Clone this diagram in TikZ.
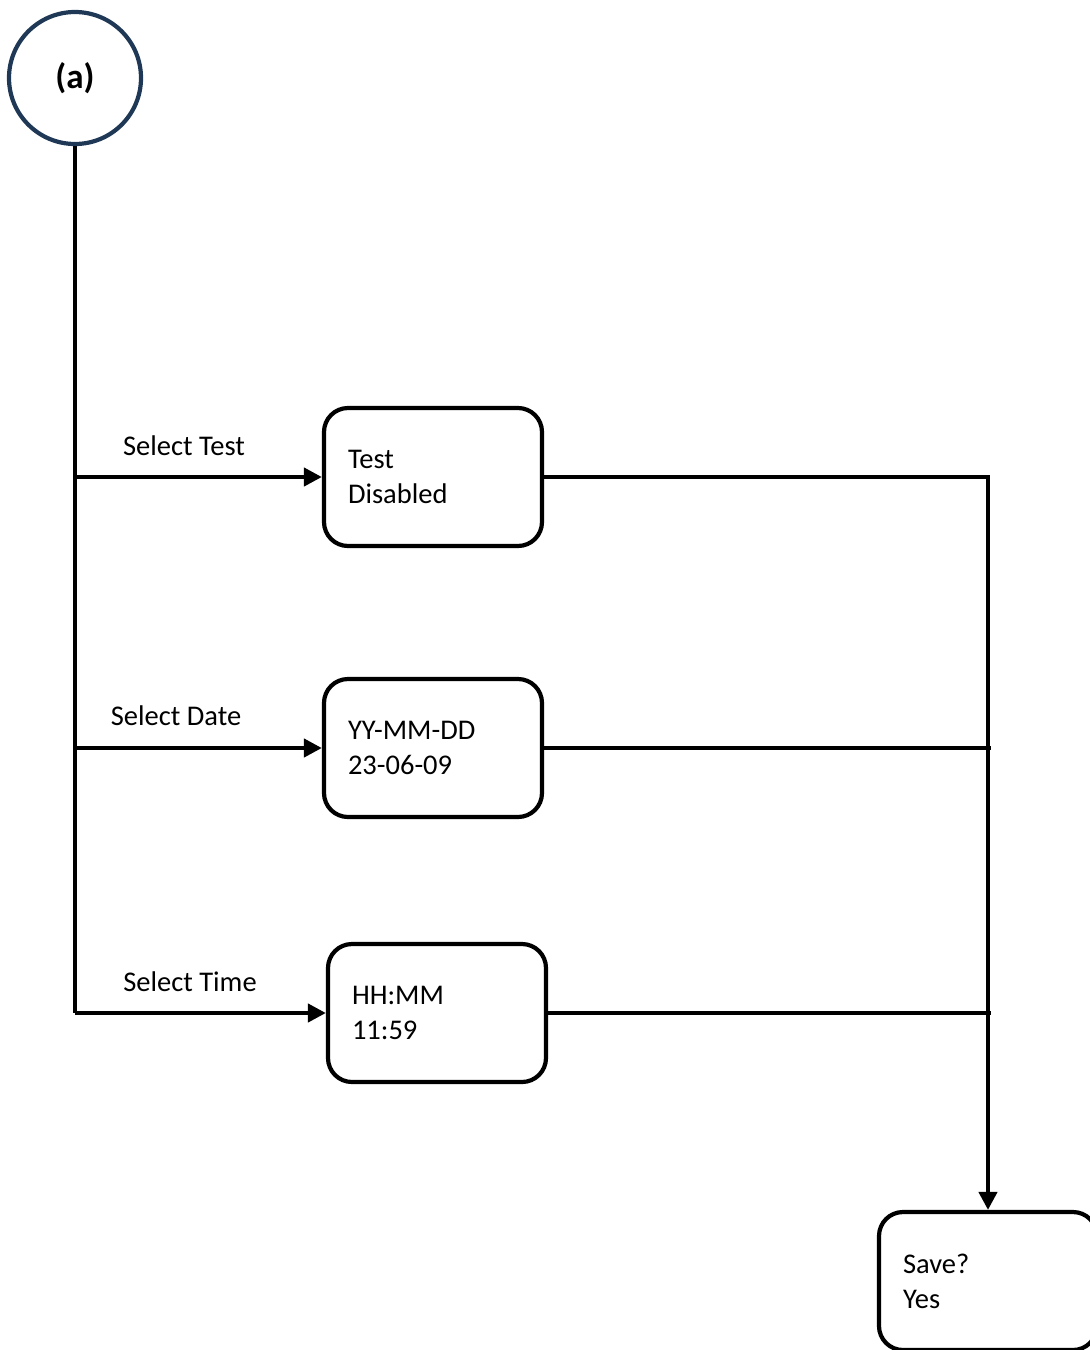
\documentclass[tikz,border=0pt]{standalone}
\usepackage{fontspec}
\setmainfont{Carlito}
\usetikzlibrary{arrows.meta}
\definecolor{ringblue}{RGB}{31,56,86}
\tikzset{
    flow/.style={line width=4.2pt},
    flowarrow/.style={flow,-{Triangle[length=18pt,width=18pt]}},
    statebox/.style={draw,flow,rounded corners=24pt,minimum width=218pt,minimum height=138pt,
        text width=170pt,inner xsep=24pt,align=left,font=\fontsize{28.5}{35}\selectfont},
    lbl/.style={font=\fontsize{28.5}{34}\selectfont}
}
\begin{document}
\begin{tikzpicture}[x=1pt,y=-1pt]
    \useasboundingbox (0,0) rectangle (1090,1350);
    % start circle
    \node[circle,draw=ringblue,line width=4.2pt,minimum size=132pt,font=\fontsize{35}{40}\selectfont\bfseries] (start) at (75,78) {(a)};

    % the three settings
    \node[statebox] (test) at (433,477) {Test\\Disabled};
    \node[statebox] (date) at (433,748) {YY-MM-DD\\23-06-09};
    \node[statebox] (time) at (437,1013) {HH:MM\\11:59};
    \node[statebox] (save) at (988,1281) {Save?\\Yes};

    % branch points on the left line
    \coordinate (bt) at (start.south |- test.west);
    \coordinate (bd) at (start.south |- date.west);
    \coordinate (bm) at (start.south |- time.west);
    \draw[flow] (start.south) -- (bm);

    \draw[flowarrow] (bt) -- (test.west);
    \draw[flowarrow] (bd) -- (date.west);
    \draw[flowarrow] (bm) -- (time.west);

    \node[lbl] (ltest) at (184,446) {Select Test};
    \node[lbl] (ldate) at (176,716) {Select Date};
    \node[lbl] (ltime) at (190,982) {Select Time};

    % collect on the right
    \coordinate (jd) at (save.north |- date.east);
    \coordinate (jm) at (save.north |- time.east);
    \draw[flow] (date.east) -- ([xshift=3pt]jd);
    \draw[flow] (time.east) -- ([xshift=3pt]jm);
    \draw[flowarrow] (test.east) -| (save.north);
\end{tikzpicture}
\end{document}
